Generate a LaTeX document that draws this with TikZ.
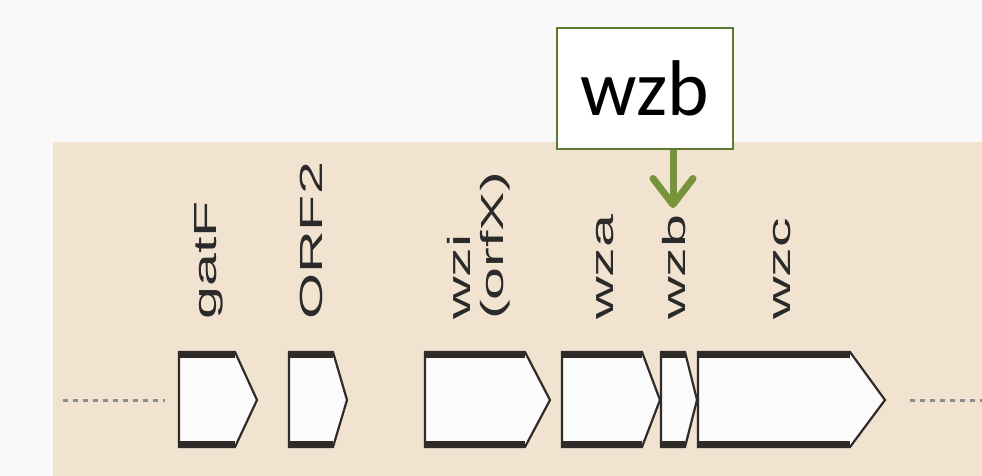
\documentclass[tikz,border=0pt]{standalone}
\usepackage{fontspec}
\setmainfont{Liberation Sans}
\newfontfamily\calib{Carlito}
\usetikzlibrary{arrows.meta}
\definecolor{pagebg}{HTML}{F9F9F9}
\definecolor{beige}{HTML}{F2E3D1}
\definecolor{genefill}{HTML}{FBFBFB}
\definecolor{geneline}{HTML}{2E2B28}
\definecolor{labgray}{HTML}{2A2A2A}
\definecolor{dotgray}{HTML}{8C8C8C}
\definecolor{arrowgreen}{HTML}{77933C}
\definecolor{boxgreen}{HTML}{5E7A2E}
\tikzset{
  genebody/.style={fill=genefill, draw=geneline, line width=2.2pt, line join=miter},
  geneband/.style={draw=geneline, line width=6.5pt},
  genelabel/.style={rotate=90, anchor=base west, inner sep=0pt, text=labgray, font=\fontsize{32}{32}\selectfont},
  dotline/.style={draw=dotgray, line width=3pt, dash pattern=on 5pt off 5pt},
  callout/.style={draw=boxgreen, line width=1.5pt, fill=white, minimum width=176pt, minimum height=121pt, inner sep=0pt, font=\calib\fontsize{79}{79}\selectfont},
  callarrow/.style={draw=arrowgreen, line width=7pt, -{Straight Barb[length=26pt, width=40pt, line width=7pt, round]}}
}
\newcommand{\genearrow}[3]{%
  \draw[genebody] (#1,352) -- (#2,352) -- (#3,400) -- (#2,447) -- (#1,447) -- cycle;
  \draw[geneband] (#1,355) -- (#2,355);
  \draw[geneband] (#1,444) -- (#2,444);
}
\newcommand{\stretchlab}[1]{\scalebox{1.85}[1]{#1}}
\begin{document}
\begin{tikzpicture}[x=1pt, y=-1pt]
  \useasboundingbox (0,0) rectangle (982,476);
  \fill[pagebg] (0,0) rectangle (982,476);
  \fill[beige] (53,142) rectangle (982,476);
  % dotted flanks
  \coordinate (dl1) at (63,400);
  \coordinate (dl2) at (165,400);
  \coordinate (dr1) at (910,400);
  \coordinate (dr2) at (982,400);
  \draw[dotline] (dl1) -- (dl2);
  \draw[dotline] (dr1) -- (dr2);
  % genes
  \genearrow{179}{235}{257}
  \genearrow{289}{333}{347}
  \genearrow{425}{525}{550}
  \genearrow{562}{642}{660}
  \genearrow{661}{685}{697}
  \genearrow{698}{850}{885}
  % labels
  \node[genelabel] (lgatF) at (216,320) {\stretchlab{gatF}};
  \node[genelabel] (lorf2) at (322,320) {\stretchlab{ORF2}};
  \node[genelabel] (lwzi) at (470,320) {\stretchlab{wzi}};
  \node[genelabel] (lorfx) at (503,320) {\stretchlab{(orfX)}};
  \node[genelabel] (lwza) at (613,320) {\stretchlab{wza}};
  \node[genelabel] (lwzb) at (685,320) {\stretchlab{wzb}};
  \node[genelabel] (lwzc) at (790,320) {\stretchlab{wzc}};
  % callout
  \node[callout] (box) at (645,88.5) {wzb};
  \coordinate (tip) at (673,208);
  \draw[callarrow] (box.south -| tip) -- (tip);
\end{tikzpicture}
\end{document}
